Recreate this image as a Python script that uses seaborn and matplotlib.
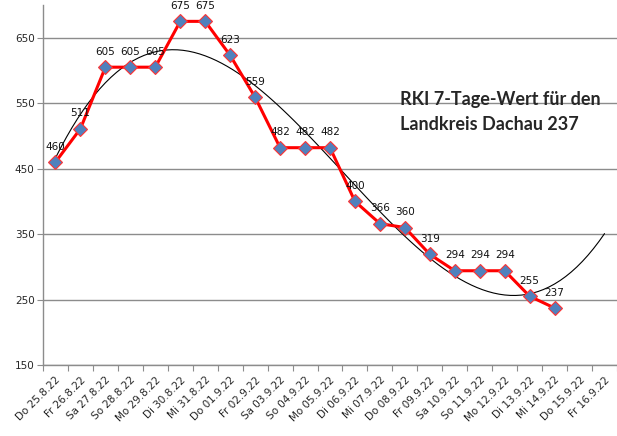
import matplotlib
matplotlib.use("Agg")
import matplotlib.pyplot as plt
import seaborn as sns
import numpy as np

# Daten: RKI 7-Tage-Wert Landkreis Dachau
dates = ["Do 25.8.22", "Fr 26.8.22", "Sa 27.8.22", "So 28.8.22", "Mo 29.8.22",
         "Di 30.8.22", "Mi 31.8.22", "Do 01.9.22", "Fr 02.9.22", "Sa 03.9.22",
         "So 04.9.22", "Mo 05.9.22", "Di 06.9.22", "Mi 07.9.22", "Do 08.9.22",
         "Fr 09.9.22", "Sa 10.9.22", "So 11.9.22", "Mo 12.9.22", "Di 13.9.22",
         "Mi 14.9.22", "Do 15.9.22", "Fr 16.9.22"]
values = [460, 511, 605, 605, 605, 675, 675, 623, 559, 482, 482, 482,
          400, 366, 360, 319, 294, 294, 294, 255, 237]
yticks = [150, 250, 350, 450, 550, 650]
title = "RKI 7-Tage-Wert für den\nLandkreis Dachau 237"

sns.set_style("white")
plt.rcParams['font.family'] = ['DejaVu Sans']

fig = plt.figure(figsize=(6.17, 4.36), dpi=100)
ax = fig.add_axes([43 / 617, 1 - 365 / 436, 574 / 617, 360 / 436])

x = np.arange(len(values))

# polynomische Trendlinie (3. Ordnung), vom ersten Wert bis zum letzten Datum
ax.set_xlim(0, len(dates) - 1)
sns.regplot(x=x, y=values, order=3, ci=None, scatter=False, truncate=False,
            line_kws={'color': 'black', 'lw': 0.8}, ax=ax)
ax.set_xlim(-0.5, len(dates) - 0.5)
ax.set_ylim(150, 700)

sns.lineplot(x=x, y=values, color='#ff0000', lw=2.2, marker='D', markersize=7,
             markerfacecolor='#4f81bd', markeredgecolor='#ff3333', markeredgewidth=0.8,
             ax=ax, zorder=3)

for xi, v in zip(x, values):
    ax.annotate(str(v), (xi, v), xytext=(0, 11), textcoords='offset points',
                ha='center', va='center', fontsize=7.5, color='#111111')

ax.set_yticks(yticks)
ax.set_yticklabels([str(t) for t in yticks], fontsize=7.5)
ax.yaxis.grid(True, color='#8c8c8c', lw=1)
ax.set_axisbelow(True)

ax.set_xticks(np.arange(len(dates) + 1) - 0.5, minor=False)
ax.set_xticklabels([])
ax.set_xticks(np.arange(len(dates)), minor=True)
ax.set_xticklabels(dates, minor=True, rotation=45, ha='right', rotation_mode='anchor',
                   fontsize=7.5)
ax.tick_params(axis='x', which='major', length=4, color='#8c8c8c', direction='out', bottom=True)
ax.tick_params(axis='x', which='minor', length=0, pad=7)
ax.tick_params(axis='y', length=4, color='#8c8c8c', direction='out', left=True, pad=2)

for s in ['top', 'right']:
    ax.spines[s].set_visible(False)
for s in ['left', 'bottom']:
    ax.spines[s].set_color('#8c8c8c')
    ax.spines[s].set_linewidth(1)

fig.text(400 / 617, 1 - 112 / 436, title, fontsize=13, fontweight='bold',
         family='Lato', va='center', ha='left', linespacing=1.5)

fig.savefig("out.png", dpi=100)
